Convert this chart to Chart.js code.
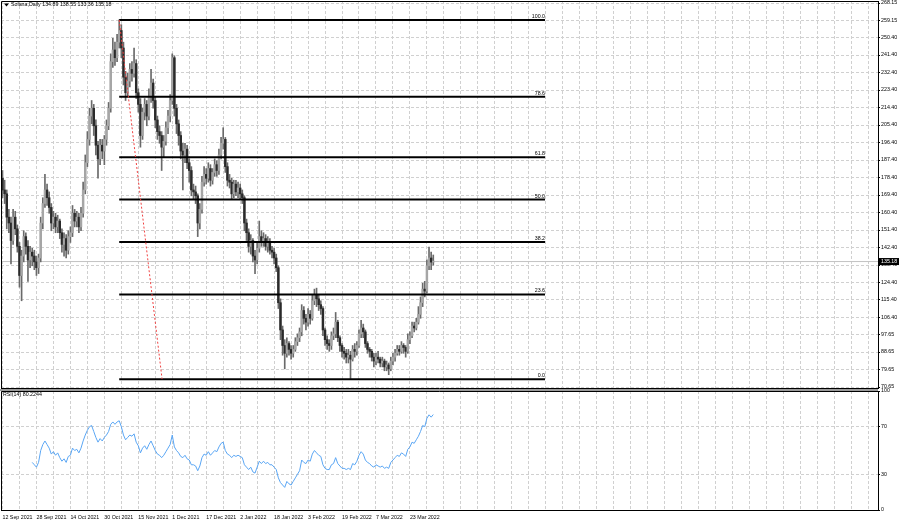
<!DOCTYPE html>
<html><head><meta charset="utf-8">
<script src="https://cdn.jsdelivr.net/npm/chart.js@4.4.0/dist/chart.umd.min.js"></script>
<style>
html,body{margin:0;padding:0;background:#fff;width:900px;height:523px;overflow:hidden}
#wrap{position:relative;width:900px;height:523px;background:#fff}
#main{position:absolute;left:0;top:0}
#rsi{position:absolute;left:0;top:386px}
</style></head><body>
<div id="wrap"><canvas id="main" width="900" height="392"></canvas><canvas id="rsi" width="900" height="137"></canvas></div>
<script>
// ---------- data ----------
const symbolTitle = 'Solana,Daily';
const lastQuote = [134.89, 138.55, 133.36, 135.18];   // O H L C of last bar
const firstOpen = 178;                                 // open of first bar (12 Sep 2021)
// daily closes, day 0 = 12 Sep 2021
const closes = [172,170,158,155,146,158,152,143,128,138,
 148,143,136,140,138,135,132,137,155,165,
 172,168,163,155,158,153,156,150,144,147,
 141,148,150,160,156,158,153,160,172,186,
 198,210,214,205,195,188,195,192,198,205,
 214,238,244,240,248,254,245,230,222,228,
 234,232,237,222,216,200,212,216,210,220,
 227,218,208,202,200,194,197,204,210,218,
 240,214,206,200,192,190,193,186,182,172,
 171,169,155,162,176,180,178,183,177,181,
 185,182,190,196,198,184,177,176,170,175,
 171,173,170,168,155,150,143,146,138,136,
 142,148,145,147,143,145,141,140,137,132,
 114,100,92,88,93,90,88,90,94,96,
 99,110,106,104,108,106,115,118,116,113,
 111,100,95,93,92,97,98,104,96,92,
 89,88,86,87,85,90,89,92,98,101,
 99,93,90,89,86,84,86,85,83,84,
 81,82,80,84,86,88,90,89,92,91,
 89,95,97,102,101,104,108,114,121,120,
 133,137,134.89,135.18];
const highs = [182,177,172,162,158,162,161,154,145,141,
 151,150,146,143,142,141,138,139,158,168,
 180,175,171,165,161,160,159,157,152,150,
 149,151,153,164,162,161,160,163,176,190,
 202,214,218,216,208,197,198,198,200,208,
 217,242,250,248,252,259.5,257,248,233,232,
 237,238,245,239,224,219,214,219,218,224,
 234,229,220,210,205,202,200,207,213,221,
 242,241,216,208,202,196,196,195,188,184,
 175,174,170,165,179,184,183,186,185,183,
 188,187,193,199,204,199,186,180,178,177,
 177,176,175,172,169,157,152,149,147,141,
 145,156,151,150,149,148,147,143,142,139,
 133,116,102,95,96,94,92,92,96,98,
 101,113,112,108,111,110,118,121,121.5,118,
 115,112,101,97,95,99,101,109,105,97,
 93,91,90,90,89,92,93,94,100,105,
 103,100,94,91,90,88,88,89,86,86,
 85,84,83,86,88,90,92,92,94,93,
 92,98,99,104,104,106,112,117,124,125,
 136,142.6,140,138.55];
const lows = [168,165,152,150,134,144,149,140,122,115,
 135,139,125,132,133,131,128,129,135,152,
 163,164,160,151,152,150,150,147,140,138,
 137,139,145,148,153,153,150,151,158,170,
 184,195,206,200,190,178,185,188,185,195,
 203,212,235,236,238,245,240,226,218,220,
 225,228,230,219,212,194,198,208,205,208,
 217,214,204,198,196,182,189,195,201,207,
 216,210,201,195,188,172,186,183,176,169,
 167,165,148,152,160,174,175,176,174,175,
 179,179,180,188,193,181,174,173,167,168,
 169,168,167,165,151,146,140,139,135,129,
 134,140,143,143,141,140,139,137,134,130,
 111,95,87,80,86,87,85,86,89,92,
 94,97,103,100,102,103,105,113,112,110,
 108,97,92,90,89,90,95,96,94,89,
 86,85,83,83,75,84,86,87,91,96,
 96,91,88,86,84,81,82,83,81,81,
 79,79,77,79,82,84,87,87,88,88,
 86,88,93,96,99,100,103,106,112,117,
 119,131,131,133.36];
// RSI(14), first value on day 14
const rsiStartDay = 14;
const rsiLast = 80.2244;
const rsiValues = [40,38,36,40,50,55,58,55,52,47,
 49,46,48,44,41,43,40,45,46,52,
 50,51,48,52,58,63,67,70,71,66,
 61,57,60,58,61,63,66,72,74,72,
 74,75,70,63,59,61,63,62,64,57,
 54,48,52,54,51,55,58,54,50,47,
 46,44,46,49,52,55,63,53,50,48,
 45,44,46,43,42,38,38,37,33,37,
 44,47,46,49,46,48,50,49,53,56,
 57,50,47,46,44,46,45,46,45,44,
 38,36,34,36,32,31,36,41,39,41,
 39,40,38,38,36,34,27,23,21,19,
 24,22,21,24,27,30,33,42,40,39,
 42,41,47,50,48,46,45,38,35,34,
 34,38,39,44,39,37,35,35,34,35,
 34,39,38,41,46,49,47,42,40,39,
 37,36,38,37,36,37,35,36,35,40,
 42,44,46,45,48,47,45,51,53,57,
 56,59,62,66,71,70,77,80,78,80.22];
// axis labels
const priceTicks = [268.15,259.15,250.40,241.40,232.40,223.40,214.40,205.40,196.40,187.40,178.40,169.40,160.40,151.40,142.40,133.40,124.40,115.40,106.40,97.65,88.65,79.65,70.65];
const rsiTicks = [0,30,70,100];
const dateLabels = ['12 Sep 2021','28 Sep 2021','14 Oct 2021','30 Oct 2021','15 Nov 2021','1 Dec 2021','17 Dec 2021','2 Jan 2022','18 Jan 2022','3 Feb 2022','19 Feb 2022','7 Mar 2022','23 Mar 2022'];
const labelEveryDays = 16;
// Fibonacci retracement
const fibLevels = [0, 23.6, 38.2, 50, 61.8, 78.6, 100];
const fibHigh = 259.4, fibLow = 74.7;
const fibStartDay = 55, fibEndDay = 255.66, trendEndDay = 75.2;

// ---------- setup ----------
const xMin = -0.707, xMax = 412.58;
const priceMin = 70.14, priceMax = 269.18;
const gridDays = Array.from({length: 52}, (_, k) => k * 8);
const days = closes.map((_, i) => i);
const opens = closes.map((c, i) => i === 0 ? firstOpen : closes[i - 1]);
const fibPrice = l => fibLow + (fibHigh - fibLow) * l / 100;

const FAM = "'Liberation Sans', Arial, sans-serif";
const FONT = {family: FAM, size: 5.3};
const CFONT = '5.3px ' + FAM;
const GRID = '#d0d0d0';
const DASH = [3, 2];

const mainDecor = {
  id: 'mainDecor',
  afterDraw(chart) {
    const {ctx, chartArea: a, scales: {x, y}} = chart;
    ctx.save();
    ctx.strokeStyle = '#000'; ctx.lineWidth = 1;
    ctx.beginPath();
    ctx.moveTo(a.left + 0.5, a.bottom + 0.5); ctx.lineTo(a.left + 0.5, a.top + 0.5); ctx.lineTo(a.right, a.top + 0.5);
    ctx.moveTo(a.left, a.bottom + 0.5); ctx.lineTo(a.right, a.bottom + 0.5);
    ctx.stroke();
    // title
    ctx.fillStyle = '#000';
    ctx.beginPath(); ctx.moveTo(a.left + 3, a.top + 2.5); ctx.lineTo(a.left + 8, a.top + 2.5); ctx.lineTo(a.left + 5.5, a.top + 5.5); ctx.closePath(); ctx.fill();
    ctx.font = CFONT; ctx.textBaseline = 'middle'; ctx.textAlign = 'left';
    ctx.fillText(symbolTitle + ' ' + lastQuote.map(v => v.toFixed(2)).join(' '), a.left + 10, a.top + 4);
    // fib labels
    ctx.textAlign = 'right'; ctx.textBaseline = 'alphabetic';
    fibLevels.forEach(l => {
      const py = y.getPixelForValue(fibPrice(l));
      ctx.fillText(l.toFixed(1), x.getPixelForValue(fibEndDay), py - 2);
    });
    // last price tag
    const py = y.getPixelForValue(lastQuote[3]);
    ctx.fillStyle = '#000'; ctx.fillRect(a.right + 1, py - 3.5, 20, 7);
    ctx.fillStyle = '#fff'; ctx.textAlign = 'left'; ctx.textBaseline = 'middle';
    ctx.fillText(lastQuote[3].toFixed(2), a.right + 3, py + 0.3);
    ctx.restore();
  }
};

new Chart(document.getElementById('main'), {
  type: 'bar',
  data: { datasets: [
    { type: 'line', data: [{x: xMin, y: lastQuote[3]}, {x: xMax, y: lastQuote[3]}], borderColor: '#c4c4c4', borderWidth: 1, pointRadius: 0, order: 10 },
    { type: 'bar', data: days.map(i => ({x: i, y: [lows[i], highs[i]]})), backgroundColor: '#6a6a6a', barThickness: 1, grouped: false, order: 6 },
    { type: 'bar', data: days.map(i => ({x: i, y: [opens[i], closes[i]]})), backgroundColor: days.map(i => closes[i] >= opens[i] ? '#a6a6a6' : '#2a2a2a'), barThickness: 1.8, minBarLength: 1, grouped: false, order: 5 },
    ...fibLevels.map(l => ({ type: 'line', data: [{x: fibStartDay, y: fibPrice(l)}, {x: fibEndDay, y: fibPrice(l)}], borderColor: '#000', borderWidth: 2, pointRadius: 0, order: 1 })),
    { type: 'line', data: [{x: fibStartDay, y: fibHigh}, {x: trendEndDay, y: fibLow}], borderColor: '#f04040', borderWidth: 1, borderDash: [2, 2], pointRadius: 0, order: 0 }
  ]},
  options: {
    responsive: false, animation: false, events: [],
    layout: {padding: {left: 1, top: 1, right: 0, bottom: 4}},
    plugins: {legend: {display: false}, tooltip: {enabled: false}, title: {display: false}},
    scales: {
      x: { type: 'linear', min: xMin, max: xMax, offset: false,
        afterBuildTicks: s => { s.ticks = gridDays.map(v => ({value: v})); },
        afterFit: s => { s.height = 0; s.paddingLeft = 0; s.paddingRight = 0; },
        ticks: {display: false},
        grid: {color: GRID, drawTicks: false, offset: false},
        border: {display: false, dash: DASH} },
      y: { type: 'linear', position: 'right', min: priceMin, max: priceMax, beginAtZero: false,
        afterBuildTicks: s => { s.ticks = priceTicks.map(v => ({value: v})); },
        afterFit: s => { s.width = 22; s.paddingTop = 0; s.paddingBottom = 0; },
        ticks: {font: FONT, color: '#000', padding: 1, autoSkip: false, callback: v => Number(v).toFixed(2)},
        grid: {color: GRID, tickColor: '#000', tickLength: 2},
        border: {display: true, color: '#000', width: 1, dash: DASH} }
    }
  },
  plugins: [mainDecor]
});

const rsiDecor = {
  id: 'rsiDecor',
  afterDraw(chart) {
    const {ctx, chartArea: a} = chart;
    ctx.save();
    ctx.fillStyle = '#9a9a9a'; ctx.fillRect(0, a.top - 2, a.right, 2);
    ctx.strokeStyle = '#000'; ctx.lineWidth = 1; ctx.beginPath();
    ctx.moveTo(a.left + 0.5, a.bottom); ctx.lineTo(a.left + 0.5, a.top + 0.5); ctx.lineTo(a.right, a.top + 0.5);
    ctx.stroke();
    ctx.fillStyle = '#000'; ctx.font = CFONT; ctx.textBaseline = 'middle'; ctx.textAlign = 'left';
    ctx.fillText('RSI(14) ' + rsiLast.toFixed(4), a.left + 2, a.top + 3.5);
    ctx.restore();
  }
};

new Chart(document.getElementById('rsi'), {
  type: 'line',
  data: { datasets: [
    { data: rsiValues.map((v, i) => ({x: rsiStartDay + i, y: v})), borderColor: '#5aa6f4', borderWidth: 1, pointRadius: 0, tension: 0 }
  ]},
  options: {
    responsive: false, animation: false, events: [],
    layout: {padding: {left: 1, top: 5, right: 0, bottom: 0}},
    plugins: {legend: {display: false}, tooltip: {enabled: false}},
    scales: {
      x: { type: 'linear', min: xMin, max: xMax, offset: false,
        afterBuildTicks: s => { s.ticks = gridDays.map(v => ({value: v})); },
        afterFit: s => { s.height = 13; s.paddingLeft = 0; s.paddingRight = 0; },
        ticks: {font: FONT, color: '#000', padding: 4, align: 'start', maxRotation: 0, minRotation: 0, autoSkip: false,
          callback: v => (v % labelEveryDays === 0 && v / labelEveryDays < dateLabels.length) ? dateLabels[v / labelEveryDays] : ''},
        grid: {color: GRID, drawTicks: false},
        border: {display: true, color: '#000', width: 1, dash: DASH} },
      y: { type: 'linear', position: 'right', min: 0, max: 100,
        afterBuildTicks: s => { s.ticks = rsiTicks.map(v => ({value: v})); },
        afterFit: s => { s.width = 22; s.paddingTop = 0; s.paddingBottom = 0; },
        ticks: {font: FONT, color: '#000', padding: 1, autoSkip: false, callback: v => String(v)},
        grid: {color: GRID, tickColor: '#000', tickLength: 2},
        border: {display: true, color: '#000', width: 1, dash: DASH} }
    }
  },
  plugins: [rsiDecor]
});
</script>
</body></html>
